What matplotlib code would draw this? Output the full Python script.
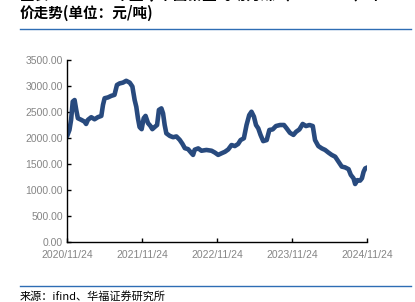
import matplotlib
matplotlib.use("Agg")
import matplotlib.pyplot as plt
from matplotlib.lines import Line2D
import pandas as pd

# price data (yuan/ton)
dates = [
    "2020-11-24", "2020-12-06", "2020-12-14", "2020-12-22", "2020-12-31", "2021-01-08",
    "2021-01-16", "2021-02-01", "2021-02-17", "2021-02-25", "2021-03-06", "2021-03-22",
    "2021-04-07", "2021-04-23", "2021-05-10", "2021-05-18", "2021-05-26", "2021-06-11",
    "2021-06-27", "2021-07-13", "2021-07-25", "2021-08-07", "2021-08-23", "2021-09-08",
    "2021-09-25", "2021-10-08", "2021-10-19", "2021-10-27", "2021-11-04", "2021-11-12",
    "2021-11-22", "2021-12-02", "2021-12-11", "2021-12-23", "2022-01-03", "2022-01-13",
    "2022-01-24", "2022-02-05", "2022-02-14", "2022-02-26", "2022-03-06", "2022-03-14",
    "2022-03-22", "2022-04-08", "2022-04-24", "2022-05-10", "2022-05-26", "2022-06-08",
    "2022-06-20", "2022-07-06", "2022-07-22", "2022-07-30", "2022-08-07", "2022-08-24",
    "2022-09-09", "2022-10-03", "2022-10-28", "2022-11-13", "2022-11-29", "2022-12-15",
    "2023-01-01", "2023-01-17", "2023-02-02", "2023-02-18", "2023-03-06", "2023-03-18",
    "2023-04-03", "2023-04-16", "2023-04-29", "2023-05-10", "2023-05-22", "2023-06-01",
    "2023-06-12", "2023-06-23", "2023-07-06", "2023-07-23", "2023-08-05", "2023-08-21",
    "2023-09-06", "2023-09-26", "2023-10-15", "2023-10-28", "2023-11-13", "2023-11-30",
    "2023-12-13", "2023-12-29", "2024-01-14", "2024-01-30", "2024-02-16", "2024-03-03",
    "2024-03-14", "2024-03-30", "2024-04-16", "2024-05-02", "2024-05-18", "2024-06-03",
    "2024-06-20", "2024-07-06", "2024-07-22", "2024-08-07", "2024-08-24", "2024-09-04",
    "2024-09-17", "2024-09-25", "2024-10-06", "2024-10-19", "2024-10-28", "2024-11-05",
    "2024-11-13", "2024-11-24",
]
prices = [
    2030, 2155, 2350, 2700, 2730, 2540,
    2380, 2350, 2315, 2270, 2350, 2400,
    2360, 2400, 2425, 2635, 2765, 2780,
    2810, 2830, 3020, 3050, 3065, 3100,
    3065, 2990, 2730, 2600, 2380, 2210,
    2170, 2380, 2425, 2285, 2235, 2170,
    2210, 2250, 2540, 2570, 2475, 2250,
    2090, 2040, 2015, 2030, 1965, 1890,
    1805, 1785, 1710, 1675, 1775, 1800,
    1755, 1770, 1755, 1720, 1675, 1705,
    1735, 1780, 1865, 1845, 1885, 1960,
    1995, 2250, 2440, 2505, 2410, 2250,
    2185, 2060, 1940, 1960, 2155, 2165,
    2230, 2250, 2250, 2185, 2100, 2060,
    2120, 2165, 2270, 2230, 2250, 2230,
    1960, 1845, 1800, 1770, 1720, 1675,
    1640, 1545, 1450, 1435, 1400, 1290,
    1225, 1115, 1190, 1180, 1225, 1350,
    1415, 1435,
]
tick_dates = ["2020-11-24", "2021-11-24", "2022-11-24", "2023-11-24", "2024-11-24"]
tick_labels = ["2020/11/24", "2021/11/24", "2022/11/24", "2023/11/24", "2024/11/24"]
y_ticks = [0, 500, 1000, 1500, 2000, 2500, 3000, 3500]

x = pd.to_datetime(dates)
xt = pd.to_datetime(tick_dates)

fig = plt.figure(figsize=(4.15, 3.02), dpi=100)
ax = fig.add_axes([0.1614, 0.1987, 0.7241, 0.6026])

ax.plot(x, prices, color="#284a7e", lw=3.3, solid_joinstyle="round", solid_capstyle="round")

ax.set_xlim(xt[0], xt[-1])
ax.set_ylim(0, 3500)
ax.set_xticks(xt)
ax.set_xticklabels(tick_labels)
ax.set_yticks(y_ticks)
ax.set_yticklabels(["%.2f" % v for v in y_ticks])

for s in ["top", "right"]:
    ax.spines[s].set_visible(False)
for s in ["left", "bottom"]:
    ax.spines[s].set_color("black")
    ax.spines[s].set_linewidth(1.0)

ax.tick_params(axis="both", direction="in", length=3, width=1, color="black",
               labelsize=7.5, labelcolor="#858585")
ax.tick_params(axis="x", pad=6)
ax.tick_params(axis="y", pad=3)
for lab in ax.get_xticklabels() + ax.get_yticklabels():
    lab.set_family("Liberation Sans")

cjk = ["Noto Sans CJK SC", "DejaVu Sans"]
fig.text(0.048, 1.018, "图表16：2020年至今中国秦皇岛动力煤（5500kcal）平",
         fontsize=10.5, fontweight="bold", family=cjk, va="center", ha="left")
fig.text(0.048, 0.958, "价走势(单位：元/吨)", fontsize=10.5, fontweight="bold",
         family=cjk, va="center", ha="left")
fig.add_artist(Line2D([0.048, 0.99], [0.904, 0.904], color="#2e6db4", lw=1.0,
                      transform=fig.transFigure))
fig.add_artist(Line2D([0.048, 0.99], [0.053, 0.053], color="#2e6db4", lw=1.0,
                      transform=fig.transFigure))
fig.text(0.048, 0.018, "来源：ifind、华福证券研究所", fontsize=8, family=cjk,
         va="center", ha="left")

fig.savefig("out.png", dpi=100)
